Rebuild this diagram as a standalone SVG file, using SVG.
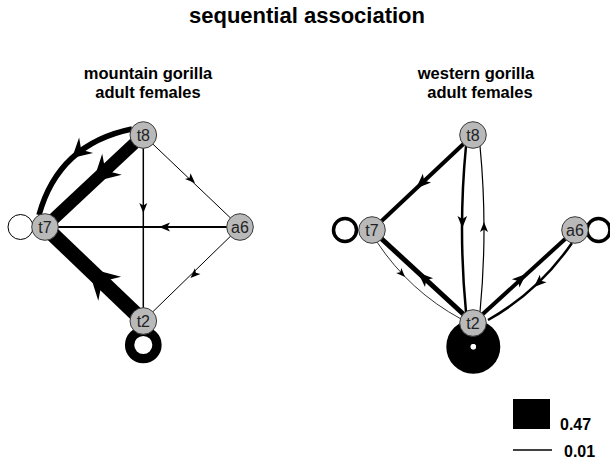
<svg xmlns="http://www.w3.org/2000/svg" xmlns:xlink="http://www.w3.org/1999/xlink" width="610" height="461" viewBox="0 0 610 461">
<style>
.title{font-family:"Liberation Sans",Arial,sans-serif;font-weight:bold;fill:#000}
.e{fill:none;stroke:#000;stroke-linecap:butt}
.ah{fill:#000}
.node circle{fill:#b9b9b9;stroke:#3a3a3a;stroke-width:1}
.node text{font-family:"Liberation Sans",Arial,sans-serif;font-size:16px;fill:#222;text-anchor:middle}
.loop{fill:none;stroke:#000}
</style>
<defs>
<path id="ah" d="M0,0 L-10,-4 L-7.5,0 L-10,4 Z"/>
<path id="ahw" d="M0,0 L-10,-5.5 L-6.5,0 L-10,5.5 Z"/>
</defs>
<rect width="610" height="461" fill="#fff"/>
<text class="title" x="307" y="23" font-size="22" text-anchor="middle">sequential association</text>
<text class="title" x="148" y="79" font-size="16.5" text-anchor="middle">mountain gorilla</text>
<text class="title" x="148" y="98" font-size="16.5" text-anchor="middle">adult females</text>
<text class="title" x="476" y="79" font-size="16.5" text-anchor="middle">western gorilla</text>
<text class="title" x="480" y="98" font-size="16.5" text-anchor="middle">adult females</text>

<g id="connectors">
<!-- left graph -->
<circle class="loop" cx="20.5" cy="227" r="12.5" style="fill:#fff" stroke-width="1"/>
<circle class="loop" cx="143.3" cy="345" r="13.7" stroke-width="9.3"/>
<path class="e" d="M132,129 Q58.5,144 39,215" stroke-width="5.5"/>
<path class="e" d="M143.3,135 L45,227" stroke-width="12"/>
<path class="e" d="M143.3,135 L143.3,321" stroke-width="1.5"/>
<path class="e" d="M143.3,135 L240,227" stroke-width="1"/>
<path class="e" d="M240,227 L45,227" stroke-width="2"/>
<path class="e" d="M240,227 L143.3,321" stroke-width="1"/>
<path class="e" d="M143.3,321 L45,227" stroke-width="15"/>
<g class="ah">
<use xlink:href="#ahw" transform="translate(72,158) rotate(138) scale(1.9)"/>
<use xlink:href="#ahw" transform="translate(93,182) rotate(136.9) scale(2.6)"/>
<use xlink:href="#ah" transform="translate(143.3,213) rotate(90)"/>
<use xlink:href="#ah" transform="translate(195,183) rotate(43.6)"/>
<use xlink:href="#ah" transform="translate(159,227) rotate(180) scale(1.1)"/>
<use xlink:href="#ah" transform="translate(190.5,278) rotate(135.8)"/>
<use xlink:href="#ahw" transform="translate(88,268) rotate(-136.3) scale(3)"/>
</g>
<!-- right graph -->
<circle class="loop" cx="345" cy="230" r="11.5" stroke-width="3.5"/>
<circle class="loop" cx="598.5" cy="230" r="11.5" stroke-width="3.5"/>
<circle class="loop" cx="473.3" cy="346.7" r="14.8" stroke-width="24.4"/>
<path class="e" d="M473,135 L372,230" stroke-width="4"/>
<path class="e" d="M466,146 Q458,229 466,312" stroke-width="2.5"/>
<path class="e" d="M480,312 Q488,229 480,146" stroke-width="1.2"/>
<path class="e" d="M377,242 Q409.5,291 461,319" stroke-width="0.8"/>
<path class="e" d="M473,323 L372,230" stroke-width="5"/>
<path class="e" d="M473,323 L575,230" stroke-width="4"/>
<path class="e" d="M572,243 Q538,292 488,320" stroke-width="2.5"/>
<g class="ah">
<use xlink:href="#ah" transform="translate(416,188.5) rotate(136.8) scale(1.5)"/>
<use xlink:href="#ah" transform="translate(462.3,228) rotate(90) scale(1.2)"/>
<use xlink:href="#ah" transform="translate(484,222) rotate(-90) scale(1)"/>
<use xlink:href="#ah" transform="translate(405,277) rotate(46) scale(0.9)"/>
<use xlink:href="#ah" transform="translate(418,272.4) rotate(-137.4) scale(1.5)"/>
<use xlink:href="#ah" transform="translate(526,274) rotate(-42.4) scale(1.4)"/>
<use xlink:href="#ah" transform="translate(534,287) rotate(137.5) scale(1.25)"/>
</g>
</g>

<g id="L-t8" class="node"><circle cx="143.3" cy="135" r="13.3"/><text x="143.3" y="141">t8</text></g>
<g id="L-t7" class="node"><circle cx="45" cy="227" r="13.3"/><text x="45" y="233">t7</text></g>
<g id="L-a6" class="node"><circle cx="240" cy="227" r="13.3"/><text x="240" y="233">a6</text></g>
<g id="L-t2" class="node"><circle cx="143.3" cy="321" r="13.3"/><text x="143.3" y="327">t2</text></g>

<g id="R-t8" class="node"><circle cx="473" cy="135" r="13.3"/><text x="473" y="141">t8</text></g>
<g id="R-t7" class="node"><circle cx="372" cy="230" r="13.3"/><text x="372" y="236">t7</text></g>
<g id="R-a6" class="node"><circle cx="575" cy="230" r="13.3"/><text x="575" y="236">a6</text></g>
<g id="R-t2" class="node"><circle cx="473" cy="323" r="13.3"/><text x="473" y="329">t2</text></g>
<circle cx="473.3" cy="346.7" r="2.7" fill="#fff"/>

<g id="legend">
<rect x="513" y="399" width="37" height="30" fill="#000"/>
<text class="title" x="560" y="430" font-size="16">0.47</text>
<line x1="513" y1="450" x2="552" y2="450" stroke="#000" stroke-width="1.5"/>
<text class="title" x="564" y="457" font-size="16">0.01</text>
</g>
</svg>
